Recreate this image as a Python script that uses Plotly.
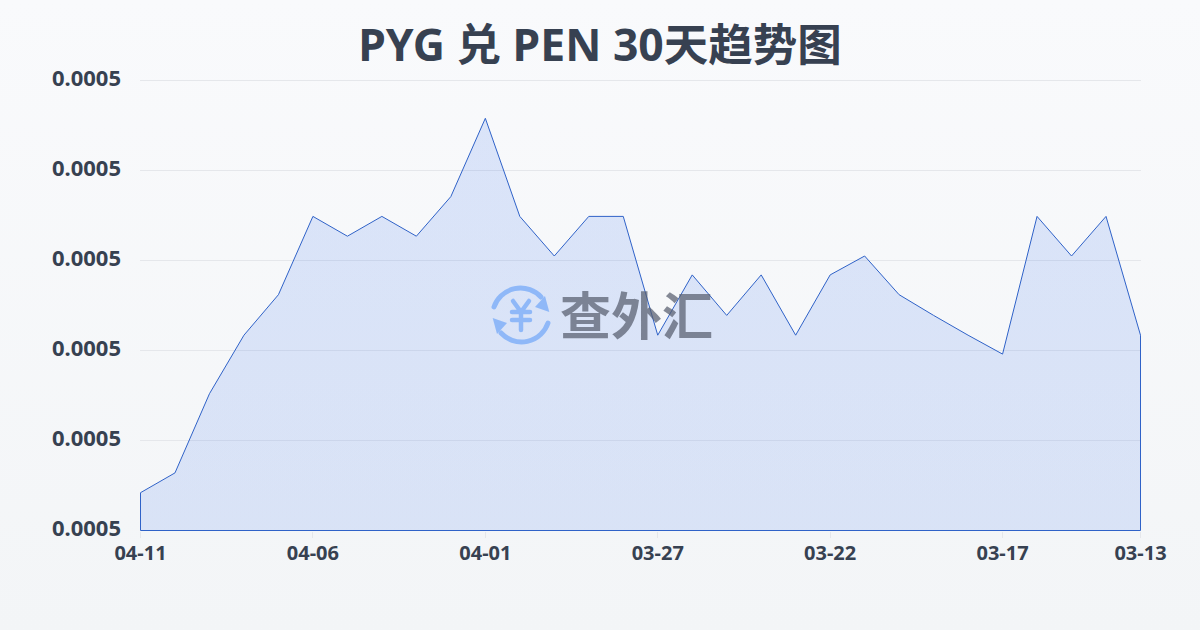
import base64
import plotly.graph_objects as go

# ---- data ----
dates = ["04-11","04-10","04-09","04-08","04-07","04-06","04-05","04-04","04-03","04-02",
         "04-01","03-31","03-30","03-29","03-28","03-27","03-26","03-25","03-24","03-23",
         "03-22","03-21","03-20","03-19","03-18","03-17","03-16","03-15","03-14","03-13"]
rates = [0.0004842,0.0004864,0.0004952,0.0005017,0.0005062,0.0005149,0.0005127,0.0005149,0.0005127,0.0005171,
         0.0005258,0.0005149,0.0005105,0.0005149,0.0005149,0.0005017,0.0005084,0.0005039,0.0005084,0.0005017,
         0.0005084,0.0005105,0.0005062,0.0005039,0.0005017,0.0004996,0.0005149,0.0005105,0.0005149,0.0005017]
x_ticks = ["04-11","04-06","04-01","03-27","03-22","03-17","03-13"]
y_ticks = [0.00048,0.00049,0.00050,0.00051,0.00052,0.00053]
title_text = "PYG 兑 PEN 30天趋势图"
brand_text = "查外汇"

def svg_uri(svg):
    return "data:image/svg+xml;base64," + base64.b64encode(svg.encode()).decode()

bg_svg = ('<svg xmlns="http://www.w3.org/2000/svg" width="1200" height="630">'
          '<defs><linearGradient id="g" x1="0" y1="0" x2="0" y2="1">'
          '<stop offset="0" stop-color="#f9fafc"/><stop offset="1" stop-color="#f3f5f7"/>'
          '</linearGradient></defs><rect width="1200" height="630" fill="url(#g)"/></svg>')

logo_svg = ('<svg xmlns="http://www.w3.org/2000/svg" width="60" height="60" viewBox="0 0 60 60">'
            '<g fill="none" stroke="#8fb8f8" stroke-width="5" stroke-linecap="round">'
            '<path d="M3 22 A28 28 0 0 1 50 12"/><path d="M57 38 A28 28 0 0 1 10 48"/>'
            '<path stroke-width="4.5" d="M22 16 L30 27 L38 16 M21 27 H39 M21 35 H39 M30 27 V45"/></g>'
            '<g fill="#8fb8f8"><path d="M58.3 27 L54 11 L44 22 Z"/><path d="M1.7 33 L6 49 L16 38 Z"/></g></svg>')

# plot box: 140..1141 x 79..531, with half-pixel padded ranges so the lines sit crisp
L, R, T, B = 140, 1141, 79, 531
px = lambda v: (v - L) / (R - L)
py = lambda v: (B - v) / (B - T)
px_per_cat = 1000 / (len(dates) - 1)
px_per_val = 450 / (y_ticks[-1] - y_ticks[0])

fig = go.Figure()
fig.add_trace(go.Scatter(
    x=dates + [dates[-1], dates[0], dates[0]],
    y=rates + [y_ticks[0], y_ticks[0], rates[0]],
    mode="lines",
    line=dict(color="#2f62c8", width=1),
    fill="toself",
    fillgradient=dict(type="vertical",
                      colorscale=[[0, "rgba(37,99,235,0.13)"], [1, "rgba(37,99,235,0.14)"]]),
    cliponaxis=False,
    hoverinfo="skip", showlegend=False,
))

fig.update_layout(
    width=1200, height=630,
    margin=dict(l=L, r=1200 - R, t=T, b=630 - B, pad=0),
    paper_bgcolor="rgba(0,0,0,0)",
    plot_bgcolor="rgba(0,0,0,0)",
    font=dict(family="Noto Sans, Noto Sans CJK SC", color="#374151"),
    title=dict(text=f"<b>{title_text}</b>", x=0.5, xanchor="center", y=0.928, yanchor="middle",
               font=dict(size=44.5, color="#374151", family="Noto Sans, Noto Sans CJK SC")),
    xaxis=dict(type="category", categoryorder="array", categoryarray=dates,
               range=[-0.5 / px_per_cat, len(dates) - 1 + 0.5 / px_per_cat],
               tickmode="array", tickvals=x_ticks, ticktext=x_ticks,
               showgrid=False, zeroline=False, showline=False,
               ticks="outside", ticklen=6, tickwidth=1, tickcolor="#e5e7eb", ticklabelstandoff=-2,
               tickfont=dict(size=20, color="#374151", weight="bold")),
    yaxis=dict(range=[y_ticks[0] - 0.5 / px_per_val, y_ticks[-1] + 1.5 / px_per_val],
               tickmode="array", tickvals=y_ticks,
               tickformat=".4f", showgrid=True, gridcolor="#e5e7eb", gridwidth=1,
               zeroline=False, showline=False, ticks="", ticklabelstandoff=18, ticklabelshift=-2,
               tickfont=dict(size=22, color="#374151", weight="bold")),
    images=[
        dict(source=svg_uri(bg_svg), xref="paper", yref="paper", x=px(0), y=py(0),
             sizex=1200 / (R - L), sizey=630 / (B - T), sizing="stretch", xanchor="left", yanchor="top", layer="below"),
        dict(source=svg_uri(logo_svg), xref="paper", yref="paper", x=px(491), y=py(285),
             sizex=60 / (R - L), sizey=60 / (B - T), sizing="stretch", xanchor="left", yanchor="top", layer="above"),
    ],
    annotations=[dict(text=f"<b>{brand_text}</b>", xref="paper", yref="paper", x=px(636), y=py(313),
                      xanchor="center", yanchor="middle", showarrow=False,
                      font=dict(size=51, color="rgba(86,93,110,0.72)", family="Noto Sans CJK SC"))],
)

fig.write_html("out.html", post_script="document.body.style.margin='0';", config={"displayModeBar": False})
